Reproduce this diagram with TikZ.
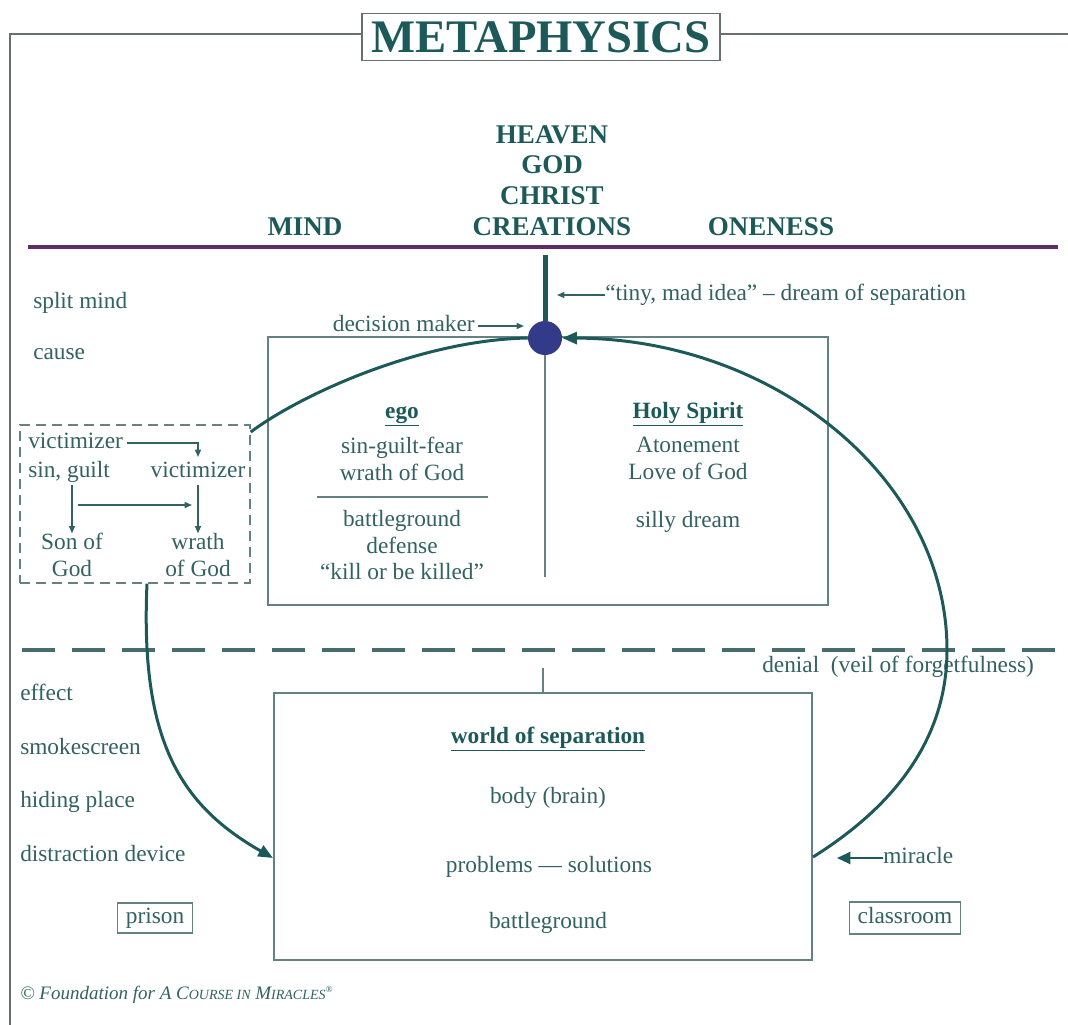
\documentclass[tikz,border=0pt]{standalone}
\usepackage{fontspec}
\setmainfont{Liberation Serif}
\usetikzlibrary{arrows.meta}
\definecolor{tealdk}{RGB}{28,90,90}
\definecolor{tealtx}{RGB}{50,98,98}
\definecolor{boxc}{RGB}{100,130,130}
\definecolor{framec}{RGB}{105,110,110}
\definecolor{purp}{RGB}{92,45,102}
\definecolor{dotc}{RGB}{52,58,138}
\definecolor{sepc}{RGB}{70,108,108}
\begin{document}
\begin{tikzpicture}[x=0.75pt,y=-0.75pt,
 txt/.style={text=tealtx, font=\fontsize{17.5}{21}\selectfont, inner sep=0pt, text height=12pt, text depth=3.6pt},
 hd/.style={text=tealdk, font=\bfseries\fontsize{20.25}{24}\selectfont, inner sep=0pt},
 boxline/.style={draw=boxc, line width=1.5pt},
 thinarr/.style={draw=tealtx, line width=1.1pt, -{Triangle[length=5.5pt,width=4.5pt]}},
 bigline/.style={draw=tealdk, line width=2.25pt},
 bigtip/.style={-{Triangle[length=11pt,width=9pt]}},
 tagbox/.style={txt, draw=boxc, line width=1pt}
]
\useasboundingbox (0,0) rectangle (1068,1025);
\fill[white] (0,0) rectangle (1068,1025);

% title and frame
\node[draw=framec, line width=1.1pt, fill=white, minimum width=268.5pt, minimum height=35.25pt, inner sep=0pt, text=tealdk, font=\bfseries\fontsize{35}{40}\selectfont] (title) at (541,37) {METAPHYSICS};
\draw[framec, line width=1.5pt] (title.west |- 0,34) -- (10,34) -- (10,1025);
\draw[framec, line width=1.5pt] (title.east |- 0,34) -- (1068,34);

% headings
\node[hd] (heaven) at (552,135) {HEAVEN};
\node[hd] (god) at (552,165) {GOD};
\node[hd] (christ) at (552,196) {CHRIST};
\node[hd] (creations) at (552,227) {CREATIONS};
\node[hd] (mind) at (305,227) {MIND};
\node[hd] (oneness) at (771,227) {ONENESS};
\draw[purp, line width=3pt] (28,247) -- (1058,247);

% upper box
\node[boxline, minimum width=420pt, minimum height=201pt, inner sep=0pt] (mindbox) at (548,471) {};
\node[circle, fill=dotc, minimum size=25.5pt, inner sep=0pt] (dm) at (545,338) {};
\coordinate (top) at (545,255);
\draw[tealdk, line width=3.75pt] (top) -- (dm.north);
\coordinate (divend) at (545,577);
\draw[boxc, line width=1.5pt] (dm.south) -- (divend);

\node[txt, anchor=west] (tiny) at (605,295) {“tiny, mad idea” – dream of separation};
\coordinate (tinyend) at (557,295);
\draw[thinarr] (tiny.west) -- (tinyend);
\node[txt, anchor=east] (dmk) at (475,326) {decision maker};
\coordinate (dmkend) at (524,326);
\draw[thinarr, shorten <=2pt] (dmk.east) -- (dmkend);

\node[txt, anchor=west] (split) at (33,303) {split mind};
\node[txt, anchor=west] (cause) at (33,354) {cause};

% ego column
\node[txt, font=\bfseries\fontsize{17.5}{21}\selectfont, text=tealdk] (ego) at (402,413) {\underline{ego}};
\node[txt] (sgf) at (402,448) {sin-guilt-fear};
\node[txt] (wog1) at (402,475) {wrath of God};
\draw[boxc, line width=1.2pt] (317,497) -- (488,497);
\node[txt] (bg1) at (402,521) {battleground};
\node[txt] (def) at (402,548) {defense};
\node[txt] (kill) at (402,574) {“kill or be killed”};

% Holy Spirit column
\node[txt, font=\bfseries\fontsize{17.5}{21}\selectfont, text=tealdk] (hs) at (688,413) {\underline{Holy Spirit}};
\node[txt] (aton) at (688,447) {Atonement};
\node[txt] (love) at (688,474) {Love of God};
\node[txt] (silly) at (688,522) {silly dream};

% dashed box
\node[draw=boxc, line width=1.1pt, dash pattern=on 7.5pt off 4.5pt, minimum width=172.5pt, minimum height=118.5pt, inner sep=0pt] (vbox) at (135,504) {};
\node[txt, anchor=west] (v1) at (28,443) {victimizer};
\node[txt, anchor=west] (sg) at (28,472) {sin, guilt};
\node[txt] (v2) at (198,472) {victimizer};
\node[txt] (son1) at (72,544) {Son of};
\node[txt] (son2) at (72,571) {God};
\node[txt] (wr1) at (198,544) {wrath};
\node[txt] (wr2) at (198,571) {of God};
\coordinate (v1turn) at (198,443);
\coordinate (v1end) at (198,457);
\draw[thinarr, shorten <=3pt] (v1.east) -- (v1turn) -- (v1end);
\draw[thinarr, shorten <=2pt] (sg.south -| son1.north) -- (son1.north);
\draw[thinarr, shorten <=2pt] (v2.south) -- (wr1.north);
\coordinate (hs1) at (78,505);
\coordinate (hs2) at (192,505);
\draw[thinarr] (hs1) -- (hs2);

% separator
\draw[sepc, line width=3pt, dash pattern=on 24.75pt off 12.75pt] (22,650) -- (1068,650);
\node[txt, anchor=west] (den) at (762,667) {denial\ \ (veil of forgetfulness)};

% world box
\node[boxline, minimum width=403.5pt, minimum height=200.25pt, inner sep=0pt] (world) at (543,826.5) {};
\coordinate (tick) at (543,668);
\draw[boxc, line width=1.5pt] (tick) -- (world.north);
\node[txt, font=\bfseries\fontsize{17.5}{21}\selectfont, text=tealdk] (wos) at (548,738) {\underline{world of separation}};
\node[txt] (body) at (548,798) {body (brain)};
\node[txt] (prob) at (549,867) {problems — solutions};
\node[txt] (bg2) at (548,923) {battleground};

% left list
\node[txt, anchor=west] (eff) at (20,695) {effect};
\node[txt, anchor=west] (smoke) at (20,749) {smokescreen};
\node[txt, anchor=west] (hide) at (20,802) {hiding place};
\node[txt, anchor=west] (dist) at (20,856) {distraction device};
\node[tagbox, minimum width=56.25pt, minimum height=22.5pt] (prison) at (155,918) {prison};
\node[tagbox, minimum width=83.25pt, minimum height=24pt] (class) at (905,918) {classroom};

% miracle
\node[txt, anchor=west] (mir) at (883,858) {miracle};
\coordinate (mirend) at (837,858);
\draw[draw=tealdk, line width=1.5pt, -{Triangle[length=10pt,width=9pt]}] (mir.west) -- (mirend);

% big curves
\coordinate (wR) at (world.east |- 0,857);
\coordinate (rmid) at (947,650);
\draw[bigline, bigtip] (wR) .. controls (880,815) and (947,750) .. (rmid) .. controls (947,479) and (775,339) .. (dm.east);
\coordinate (vbR) at (vbox.east |- 0,432);
\draw[bigline] (dm.west) .. controls (420,340) and (300,395) .. (vbR);
\coordinate (vbB) at (vbox.south -| 147,0);
\coordinate (wL) at (world.west |- 0,858);
\draw[bigline, bigtip] (vbB) .. controls (140,740) and (180,805) .. (wL);

% copyright
\node[anchor=west, inner sep=0pt, text=tealtx, font=\itshape\fontsize{14.25}{17}\selectfont] (copy) at (20,995) {© Foundation for A C{\fontsize{10.5}{12}\selectfont OURSE IN} M{\fontsize{10.5}{12}\selectfont IRACLES}\textsuperscript{\upshape\fontsize{7}{8}\selectfont ®}};
\end{tikzpicture}
\end{document}
